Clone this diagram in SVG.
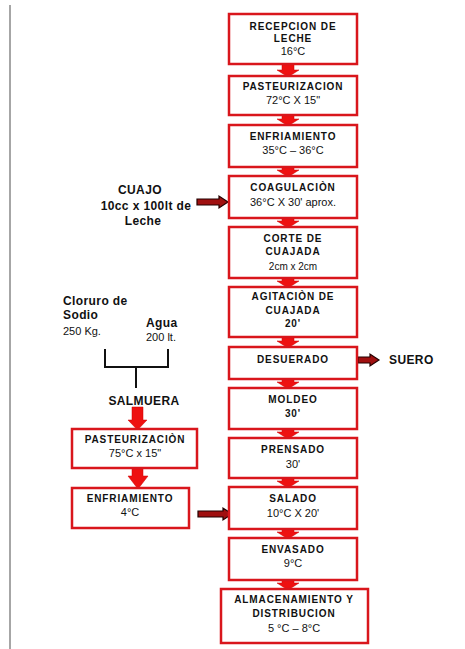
<svg xmlns="http://www.w3.org/2000/svg" width="465" height="649" viewBox="0 0 465 649">
<defs>
<style>
text{font-family:"Liberation Sans",Arial,sans-serif;fill:#111;text-anchor:middle}
.b{font-weight:bold;font-size:10px;letter-spacing:0.9px}
.n{font-size:11px}
.s{font-size:10px}
.box{fill:#fff;stroke:#d9161c;stroke-width:2.5}
.da{fill:#ee1111;stroke:#c00;stroke-width:0.5}
.ra{fill:#a01010;stroke:#200;stroke-width:1.2}
.lbl{font-weight:bold;font-size:12px;letter-spacing:0.4px}
.br{fill:none;stroke:#111;stroke-width:2}
</style>
<linearGradient id="rg" x1="0" y1="0" x2="0" y2="1">
<stop offset="0" stop-color="#5a0000"/><stop offset="0.5" stop-color="#d01818"/><stop offset="1" stop-color="#5a0000"/>
</linearGradient>
</defs>
<rect width="465" height="649" fill="#fff"/>
<line x1="10" y1="5" x2="10" y2="649" stroke="#888" stroke-width="1.5"/>

<g id="connectors">
<polygon class="da" points="282,64 294,64 294,70 299,70 288,77 277,70 282,70"/>
<polygon class="da" points="282,115 294,115 294,119 299,119 288,126 277,119 282,119"/>
<polygon class="da" points="282,167 294,167 294,170 299,170 288,177 277,170 282,170"/>
<polygon class="da" points="282,218 294,218 294,221 299,221 288,228 277,221 282,221"/>
<polygon class="da" points="282,278 294,278 294,281 299,281 288,288 277,281 282,281"/>
<polygon class="da" points="282,337 294,337 294,341 299,341 288,348 277,341 282,341"/>
<polygon class="da" points="282,379 294,379 294,382 299,382 288,389 277,382 282,382"/>
<polygon class="da" points="282,429 294,429 294,432 299,432 288,439 277,432 282,432"/>
<polygon class="da" points="282,478 294,478 294,481 299,481 288,488 277,481 282,481"/>
<polygon class="da" points="282,529 294,529 294,532 299,532 288,539 277,532 282,532"/>
<polygon class="da" points="282,580 294,580 294,583 299,583 288,590 277,583 282,583"/>
<polygon class="da" points="132,407 143,407 143,420 147,420 137.5,430 128,420 132,420"/>
<polygon class="da" points="132,468 143,468 143,476 148,476 138,489 128,476 132,476"/>
<polygon class="ra" fill="url(#rg)" points="197,199 219,199 219,196 228,202 219,208 219,205 197,205"/>
<polygon class="ra" fill="url(#rg)" points="358,357 370,357 370,354 379,360 370,366 370,363 358,363"/>
<polygon class="ra" fill="url(#rg)" points="198,511 223,511 223,508 232,514 223,520 223,517 198,517"/>
<polyline class="br" points="105,349 105,367 168,367 168,349"/>
<line class="br" x1="136" y1="367" x2="136" y2="388"/>
</g>

<g id="n1"><rect class="box" x="229" y="14" width="128" height="50"/>
<text class="b" x="293" y="30">RECEPCION DE</text><text class="b" x="293" y="42">LECHE</text><text class="n" x="293" y="55">16°C</text></g>
<g id="n2"><rect class="box" x="229" y="76" width="128" height="39"/>
<text class="b" x="293" y="90">PASTEURIZACION</text><text class="n" x="293" y="104">72°C X 15"</text></g>
<g id="n3"><rect class="box" x="229" y="125" width="128" height="42"/>
<text class="b" x="293" y="140">ENFRIAMIENTO</text><text class="n" x="293" y="154">35°C – 36°C</text></g>
<g id="n4"><rect class="box" x="229" y="176" width="128" height="42"/>
<text class="b" x="293" y="191">COAGULACIÒN</text><text class="n" x="293" y="206">36°C X 30' aprox.</text></g>
<g id="n5"><rect class="box" x="229" y="227" width="128" height="51"/>
<text class="b" x="293" y="242">CORTE DE</text><text class="b" x="293" y="255">CUAJADA</text><text class="s" x="293" y="270">2cm  x 2cm</text></g>
<g id="n6"><rect class="box" x="229" y="287" width="128" height="50"/>
<text class="b" x="293" y="300">AGITACIÒN DE</text><text class="b" x="293" y="314">CUAJADA</text><text class="b" x="293" y="327">20'</text></g>
<g id="n7"><rect class="box" x="229" y="347" width="128" height="32"/>
<text class="b" x="293" y="363">DESUERADO</text></g>
<g id="n8"><rect class="box" x="229" y="388" width="128" height="41"/>
<text class="b" x="293" y="403">MOLDEO</text><text class="b" x="293" y="417">30'</text></g>
<g id="n9"><rect class="box" x="229" y="438" width="128" height="40"/>
<text class="b" x="293" y="453">PRENSADO</text><text class="n" x="293" y="468">30'</text></g>
<g id="n10"><rect class="box" x="229" y="487" width="128" height="42"/>
<text class="b" x="293" y="502">SALADO</text><text class="n" x="293" y="517">10°C X 20'</text></g>
<g id="n11"><rect class="box" x="229" y="538" width="128" height="42"/>
<text class="b" x="293" y="553">ENVASADO</text><text class="n" x="293" y="567">9°C</text></g>
<g id="n12"><rect class="box" x="221" y="589" width="147" height="54"/>
<text class="b" x="294" y="603">ALMACENAMIENTO Y</text><text class="b" x="294" y="617">DISTRIBUCION</text><text class="n" x="294" y="632">5 °C – 8°C</text></g>

<g id="l1"><rect class="box" x="72" y="429" width="125" height="39"/>
<text class="b" x="135" y="443">PASTEURIZACIÒN</text><text class="n" x="135" y="457">75°C x 15"</text></g>
<g id="l2"><rect class="box" x="72" y="488" width="117" height="40"/>
<text class="b" x="130" y="502">ENFRIAMIENTO</text><text class="n" x="130" y="516">4°C</text></g>

<g id="cuajo"><text class="lbl" x="140" y="194">CUAJO</text><text class="lbl" x="146" y="210">10cc x 100lt de</text><text class="lbl" x="143" y="225">Leche</text></g>
<g id="suero"><text class="lbl" x="389" y="364" style="text-anchor:start">SUERO</text></g>
<g id="cloruro"><text class="lbl" x="63" y="305" style="text-anchor:start">Cloruro de</text><text class="lbl" x="63" y="319" style="text-anchor:start">Sodio</text><text x="63" y="335" style="text-anchor:start;font-size:11px">250 Kg.</text></g>
<g id="agua"><text class="lbl" x="146" y="327" style="text-anchor:start">Agua</text><text x="146" y="341" style="text-anchor:start;font-size:11px">200 lt.</text></g>
<g id="salmuera"><text class="lbl" x="144" y="405">SALMUERA</text></g>
</svg>
